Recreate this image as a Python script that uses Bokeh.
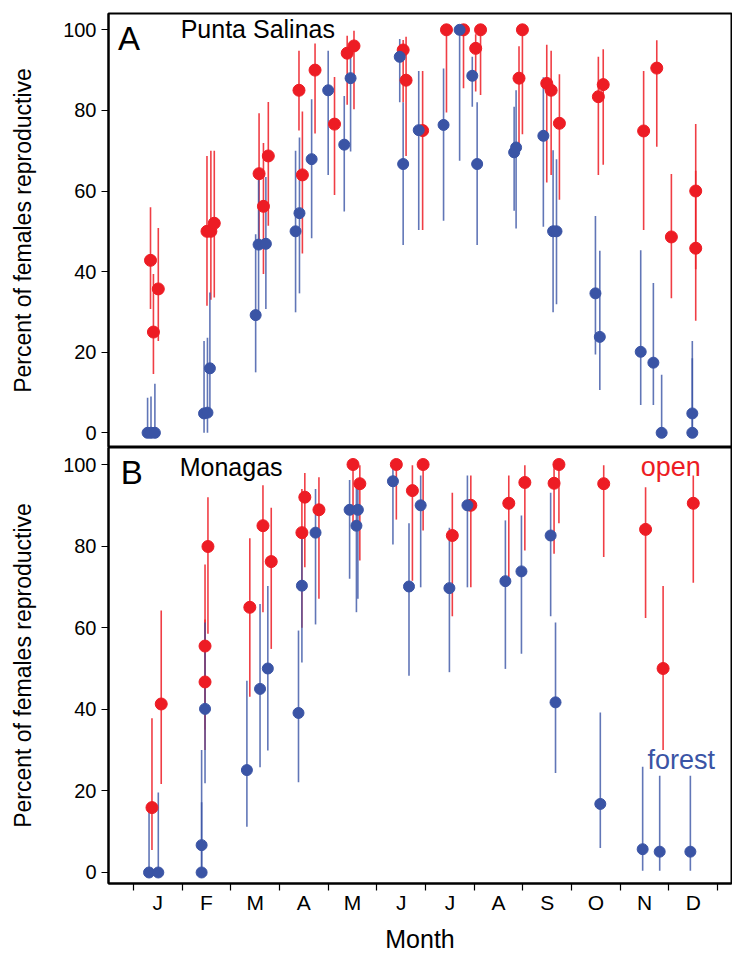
from bokeh.plotting import figure
from bokeh.models import Range1d, FixedTicker, Label, ColumnDataSource
from bokeh.layouts import column
from bokeh.embed import file_html
from bokeh.resources import INLINE

FONT = "Liberation Sans"
RED = "#ED1C24"
BLUE = "#3A54A5"

month_labels = ["J", "F", "M", "A", "M", "J", "J", "A", "S", "O", "N", "D"]
y_ticks = [0, 20, 40, 60, 80, 100]

# ---- Panel A: Punta Salinas (x = month position, 0 = start of January) ----
a_forest_x = [0.29, 0.36, 0.44, 1.45, 1.52, 1.57, 2.51, 2.57, 2.72, 3.33, 3.41, 3.66,
              4.00, 4.33, 4.46, 5.47, 5.54, 5.86, 6.37, 6.70, 6.96, 7.06, 7.82, 7.86,
              8.42, 8.62, 8.69, 9.49, 9.58, 10.42, 10.68, 10.85, 11.48, 11.48]
a_forest_y = [0, 0, 0, 4.8, 5, 16, 29.2, 46.7, 46.9, 50, 54.5, 67.9,
              85, 71.5, 88, 93.3, 66.7, 75.1, 76.4, 100, 88.6, 66.7, 69.6, 70.8,
              73.7, 50, 50, 34.6, 23.8, 20.1, 17.4, 0, 4.8, 0]
a_forest_lo = [0, 0, 0, 0, 0, 5, 15, 28, 30.7, 29.9, 34.6, 48.3,
               64, 54.9, 69.8, 82, 46.6, 50.3, 52.6, 67.5, 80.9, 46.6, 55.1, 50.7,
               51.1, 29.9, 31.9, 19.4, 10.6, 6.9, 6.9, 0, 0, 0]
a_forest_hi = [8.7, 9, 12.2, 22.8, 23.6, 34.8, 49.3, 64.2, 63.5, 70, 73.3, 82.8,
               94.8, 83.6, 96, 97.7, 82, 89.8, 90.4, 100, 93.3, 82, 80.9, 85,
               88.2, 70.1, 67.9, 53.8, 45.2, 45.3, 37.2, 14.4, 22.8, 18.5]

a_open_x = [0.35, 0.41, 0.51, 1.51, 1.59, 1.66, 2.58, 2.67, 2.77, 3.40, 3.47, 3.73,
            4.13, 4.39, 4.53, 5.54, 5.60, 5.94, 6.43, 6.78, 7.03, 7.13, 7.92, 7.99,
            8.49, 8.58, 8.75, 9.55, 9.65, 10.48, 10.75, 11.05, 11.55, 11.55]
a_open_y = [42.8, 25, 35.7, 50, 50, 52, 64.3, 56.2, 68.7, 85, 64, 90,
            76.6, 94.2, 96, 95, 87.5, 75, 100, 100, 95.4, 100, 88, 100,
            86.7, 85, 76.8, 83.4, 86.4, 74.9, 90.5, 48.6, 60, 45.8]
a_open_lo = [30.7, 14.6, 22.8, 31.5, 33, 33.6, 48, 39.4, 51.4, 75, 44.5, 74.3,
             59, 81.4, 80.3, 82, 68.7, 50.3, 79.5, 85.5, 84.7, 83.8, 71.6, 74.1,
             62.1, 64, 57.8, 64, 66.5, 50.3, 71, 33.4, 40.6, 27.8]
a_open_hi = [56, 39.4, 50.8, 68.7, 70, 70, 79.3, 71.9, 82.1, 94.8, 79.7, 96.6,
             88.3, 98.5, 99.8, 97.5, 98.3, 89.8, 100, 100, 98.9, 100, 95.9, 100,
             96.3, 94.8, 89, 93.3, 95.2, 89.8, 97.4, 64.2, 76.6, 65]

# ---- Panel B: Monagas ----
b_forest_x = [0.32, 0.51, 1.40, 1.40, 1.47, 2.33, 2.60, 2.76, 3.39, 3.46, 3.74,
              4.44, 4.58, 4.61, 5.33, 5.66, 5.90, 6.49, 6.86, 7.64, 7.97,
              8.57, 8.67, 9.59, 10.46, 10.81, 11.44]
b_forest_y = [0, 0, 0, 6.7, 40.1, 25.1, 45, 50, 39.1, 70.3, 83.3,
              88.9, 85, 88.9, 95.9, 70.1, 90, 69.7, 90, 71.4, 73.8,
              82.6, 41.7, 16.8, 5.7, 5.1, 5.1]
b_forest_lo = [0, 0, 0, 0, 21.9, 11.2, 25.8, 29.9, 22.1, 51.5, 60.8,
               72, 63.8, 67.1, 80.4, 48.2, 69.9, 49.1, 69.9, 49.9, 53.6,
               62.8, 24.4, 6, 0.4, 0.4, 0.4]
b_forest_hi = [15.5, 19.6, 17.2, 30, 61.3, 47, 65.8, 70.2, 59.3, 84.2, 94,
               96.2, 95.5, 96.4, 99.8, 85.6, 97.3, 84.5, 97.3, 86.3, 87.5,
               93.1, 61.3, 39.2, 25.9, 23.7, 23.7]

b_open_x = [0.38, 0.57, 1.47, 1.47, 1.53, 2.39, 2.66, 2.83, 3.46, 3.52, 3.81,
            4.51, 4.65, 5.40, 5.73, 5.95, 6.55, 6.93, 7.71, 8.04,
            8.64, 8.74, 9.66, 10.52, 10.88, 11.50]
b_open_y = [15.9, 41.3, 55.5, 46.7, 79.9, 65, 85, 76.2, 83.3, 92, 88.9,
            100, 95.3, 100, 93.6, 100, 82.6, 90, 90.5, 95.6,
            95.4, 100, 95.3, 84.1, 50, 90.5]
b_open_lo = [5.5, 21.7, 35, 30, 58.5, 43.1, 63.8, 54.8, 60, 74.8, 67.1,
             85.5, 76.5, 86.5, 71.5, 83.8, 62.8, 69.9, 72.4, 78.9,
             78.1, 85.6, 77.3, 62.4, 30, 71]
b_open_hi = [37.8, 64.2, 75.5, 62, 92, 81.9, 94.9, 89.4, 94, 97.9, 96.9,
             100, 99.8, 100, 99.8, 100, 93.1, 97.3, 97.3, 99.8,
             99.8, 100, 99.8, 94.4, 70.2, 97.3]

X0, X1 = -0.513, 12.285


def make_panel(fx, fy, flo, fhi, ox, oy, olo, ohi, y0, y1, height, top, bottom, show_x):
    p = figure(width=732, height=height, x_range=Range1d(X0, X1), y_range=Range1d(y0, y1),
               output_backend="svg", toolbar_location=None,
               min_border_left=108, min_border_right=1,
               min_border_top=top, min_border_bottom=bottom)
    p.outline_line_color = "black"
    p.outline_line_width = 2
    p.outline_line_alpha = 1
    p.grid.visible = False
    p.background_fill_color = "white"
    p.border_fill_color = "white"

    fsrc = ColumnDataSource(dict(x=fx, y=fy, lo=flo, hi=fhi))
    osrc = ColumnDataSource(dict(x=ox, y=oy, lo=olo, hi=ohi))
    p.segment(x0="x", y0="lo", x1="x", y1="hi", source=osrc, line_color=RED,
              line_width=1.6, line_alpha=0.85)
    p.segment(x0="x", y0="lo", x1="x", y1="hi", source=fsrc, line_color=BLUE,
              line_width=1.6, line_alpha=0.8)
    p.scatter(x="x", y="y", source=osrc, size=12, fill_color=RED, line_color=RED)
    p.scatter(x="x", y="y", source=fsrc, size=11, fill_color=BLUE, line_color=BLUE)

    ya = p.yaxis[0]
    ya.ticker = FixedTicker(ticks=y_ticks, minor_ticks=[])
    ya.axis_label = "Percent of females reproductive"
    ya.axis_label_text_font = FONT
    ya.axis_label_text_font_size = "23px"
    ya.axis_label_text_font_style = "normal"
    ya.axis_label_text_color = "black"
    ya.axis_label_standoff = 24
    ya.major_label_text_font = FONT
    ya.major_label_text_font_size = "20px"
    ya.major_label_text_color = "black"
    ya.major_label_standoff = 5
    ya.major_tick_out = 7
    ya.major_tick_in = 0
    ya.major_tick_line_color = "black"
    ya.major_tick_line_width = 1.2
    ya.axis_line_color = "black"
    ya.axis_line_width = 2

    xa = p.xaxis[0]
    if show_x:
        centers = [i + 0.5 for i in range(12)]
        xa.ticker = FixedTicker(ticks=centers, minor_ticks=list(range(13)))
        xa.major_label_overrides = {c: m for c, m in zip(centers, month_labels)}
        xa.major_tick_line_color = None
        xa.major_tick_out = 7
        xa.major_tick_in = 0
        xa.minor_tick_out = 7
        xa.minor_tick_in = 0
        xa.minor_tick_line_color = "black"
        xa.minor_tick_line_width = 1.2
        xa.major_label_text_font = FONT
        xa.major_label_text_font_size = "21px"
        xa.major_label_text_color = "black"
        xa.major_label_standoff = 0
        xa.axis_label = "Month"
        xa.axis_label_text_font = FONT
        xa.axis_label_text_font_size = "25px"
        xa.axis_label_text_font_style = "normal"
        xa.axis_label_text_color = "black"
        xa.axis_label_standoff = 8
        xa.axis_line_color = "black"
        xa.axis_line_width = 2
    else:
        xa.visible = False
    return p


pa = make_panel(a_forest_x, a_forest_y, a_forest_lo, a_forest_hi,
                a_open_x, a_open_y, a_open_lo, a_open_hi,
                -3.65, 104.05, 447, 13, 0, False)
pb = make_panel(b_forest_x, b_forest_y, b_forest_lo, b_forest_hi,
                b_open_x, b_open_y, b_open_lo, b_open_hi,
                -2.70, 104.17, 508, 0, 72, True)


def lab(p, x, y, text, size, color="black"):
    p.add_layout(Label(x=x, y=y, text=text, text_font=FONT, text_font_size=size,
                       text_color=color, text_baseline="alphabetic", text_align="left"))


lab(pa, -0.32, 97.8, "A", "33px")
lab(pa, 0.97, 100.2, "Punta Salinas", "25px")
lab(pb, -0.26, 98.1, "B", "33px")
lab(pb, 0.95, 99.5, "Monagas", "25px")
lab(pb, 10.42, 99.5, "open", "27px", RED)
lab(pb, 10.56, 27.6, "forest", "27px", BLUE)

layout = column(pa, pb, spacing=0)
open("out.html", "w").write(file_html(layout, INLINE))
